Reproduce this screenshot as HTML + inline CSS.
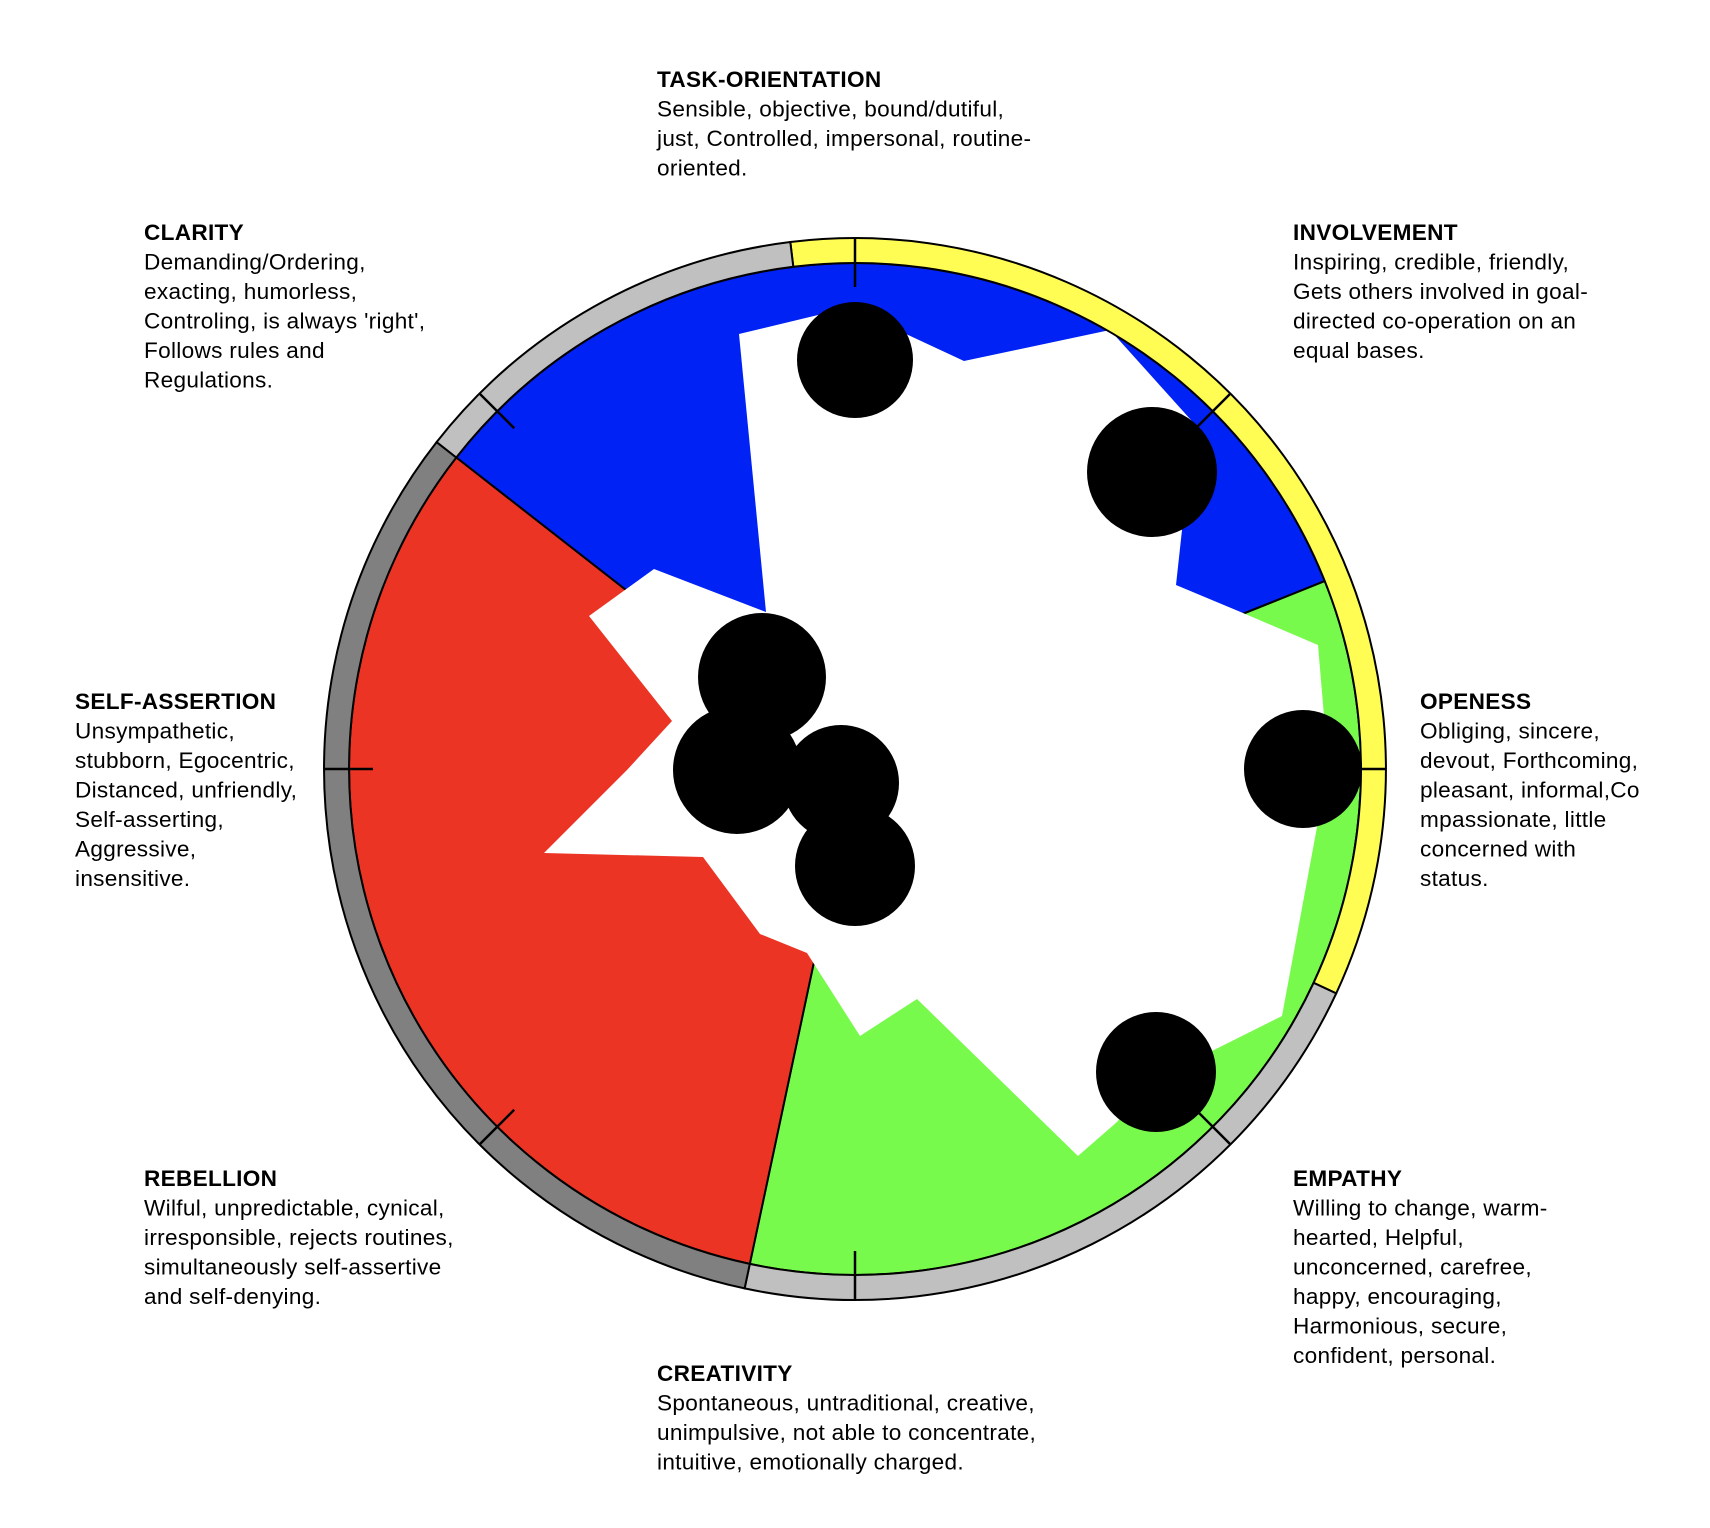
<!DOCTYPE html>
<html><head><meta charset="utf-8"><style>
html,body{margin:0;padding:0;background:#fff}
svg{display:block}
text{font-family:"Liberation Sans",Arial,sans-serif;font-size:22.6px;letter-spacing:0.3px;fill:#000}
.h{font-weight:bold}
</style></head><body>
<svg width="1710" height="1528" viewBox="0 0 1710 1528" xmlns="http://www.w3.org/2000/svg">
<path d="M855,769 L456.3,457.5 A506,506 0 0 1 1324.8,581.1 Z" fill="#0022f5" stroke="#000" stroke-width="2"/>
<path d="M855,769 L1324.8,581.1 A506,506 0 0 1 749.8,1263.9 Z" fill="#78fa4c" stroke="#000" stroke-width="2"/>
<path d="M855,769 L749.8,1263.9 A506,506 0 0 1 456.3,457.5 Z" fill="#ec3425" stroke="#000" stroke-width="2"/>
<polygon fill="#fff" points="739,334 818,315 855,360 906,334 964,361 1110,330 1200,430 1152,472 1182,530 1176,585 1243,613 1318,645 1324,716 1303,769 1317,827 1282,1016 1214,1050 1156,1072 1117,1122 1078,1156 917,999 860,1036 807,953 760,934 703,857 544,853 627,770 672,721 589,616 654,569 766,612"/>
<path d="M790.3,242 A531,531 0 0 1 1336.2,993.4 L1313.6,982.8 A506,506 0 0 0 793.3,266.8 Z" fill="#fffc54" stroke="#000" stroke-width="2"/>
<path d="M1336.2,993.4 A531,531 0 0 1 744.6,1288.4 L749.8,1263.9 A506,506 0 0 0 1313.6,982.8 Z" fill="#c0c0c0" stroke="#000" stroke-width="2"/>
<path d="M744.6,1288.4 A531,531 0 0 1 436.6,442.1 L456.3,457.5 A506,506 0 0 0 749.8,1263.9 Z" fill="#808080" stroke="#000" stroke-width="2"/>
<path d="M436.6,442.1 A531,531 0 0 1 790.3,242 L793.3,266.8 A506,506 0 0 0 456.3,457.5 Z" fill="#c0c0c0" stroke="#000" stroke-width="2"/>
<g fill="#000">
<circle cx="855" cy="360" r="58"/>
<circle cx="1152" cy="472" r="65"/>
<circle cx="1303" cy="769" r="59"/>
<circle cx="1156" cy="1072" r="60"/>
<circle cx="762" cy="677" r="64"/>
<circle cx="737" cy="770" r="64"/>
<circle cx="841" cy="783" r="58"/>
<circle cx="855" cy="866" r="60"/>
</g>
<g stroke="#000" stroke-width="2.5">
<line x1="855" y1="287" x2="855" y2="238"/>
<line x1="1195.8" y1="428.2" x2="1230.5" y2="393.5"/>
<line x1="1337" y1="769" x2="1386" y2="769"/>
<line x1="1195.8" y1="1109.8" x2="1230.5" y2="1144.5"/>
<line x1="855" y1="1251" x2="855" y2="1300"/>
<line x1="514.2" y1="1109.8" x2="479.5" y2="1144.5"/>
<line x1="373" y1="769" x2="324" y2="769"/>
<line x1="514.2" y1="428.2" x2="479.5" y2="393.5"/>
</g>
<text x="657" y="87"><tspan class="h">TASK-ORIENTATION</tspan><tspan x="657" y="116.5">Sensible, objective, bound/dutiful,</tspan><tspan x="657" y="146">just, Controlled, impersonal, routine-</tspan><tspan x="657" y="175.5">oriented.</tspan></text>
<text x="144" y="240"><tspan class="h">CLARITY</tspan><tspan x="144" y="269.5">Demanding/Ordering,</tspan><tspan x="144" y="299">exacting, humorless,</tspan><tspan x="144" y="328.5">Controling, is always 'right',</tspan><tspan x="144" y="358">Follows rules and</tspan><tspan x="144" y="387.5">Regulations.</tspan></text>
<text x="1293" y="240"><tspan class="h">INVOLVEMENT</tspan><tspan x="1293" y="269.5">Inspiring, credible, friendly,</tspan><tspan x="1293" y="299">Gets others involved in goal-</tspan><tspan x="1293" y="328.5">directed co-operation on an</tspan><tspan x="1293" y="358">equal bases.</tspan></text>
<text x="75" y="709"><tspan class="h">SELF-ASSERTION</tspan><tspan x="75" y="738.5">Unsympathetic,</tspan><tspan x="75" y="768">stubborn, Egocentric,</tspan><tspan x="75" y="797.5">Distanced, unfriendly,</tspan><tspan x="75" y="827">Self-asserting,</tspan><tspan x="75" y="856.5">Aggressive,</tspan><tspan x="75" y="886">insensitive.</tspan></text>
<text x="1420" y="709"><tspan class="h">OPENESS</tspan><tspan x="1420" y="738.5">Obliging, sincere,</tspan><tspan x="1420" y="768">devout, Forthcoming,</tspan><tspan x="1420" y="797.5">pleasant, informal,Co</tspan><tspan x="1420" y="827">mpassionate, little</tspan><tspan x="1420" y="856.5">concerned with</tspan><tspan x="1420" y="886">status.</tspan></text>
<text x="144" y="1186"><tspan class="h">REBELLION</tspan><tspan x="144" y="1215.5">Wilful, unpredictable, cynical,</tspan><tspan x="144" y="1245">irresponsible, rejects routines,</tspan><tspan x="144" y="1274.5">simultaneously self-assertive</tspan><tspan x="144" y="1304">and self-denying.</tspan></text>
<text x="1293" y="1186"><tspan class="h">EMPATHY</tspan><tspan x="1293" y="1215.5">Willing to change, warm-</tspan><tspan x="1293" y="1245">hearted, Helpful,</tspan><tspan x="1293" y="1274.5">unconcerned, carefree,</tspan><tspan x="1293" y="1304">happy, encouraging,</tspan><tspan x="1293" y="1333.5">Harmonious, secure,</tspan><tspan x="1293" y="1363">confident, personal.</tspan></text>
<text x="657" y="1381"><tspan class="h">CREATIVITY</tspan><tspan x="657" y="1410.5">Spontaneous, untraditional, creative,</tspan><tspan x="657" y="1440">unimpulsive, not able to concentrate,</tspan><tspan x="657" y="1469.5">intuitive, emotionally charged.</tspan></text>
</svg>
</body></html>
